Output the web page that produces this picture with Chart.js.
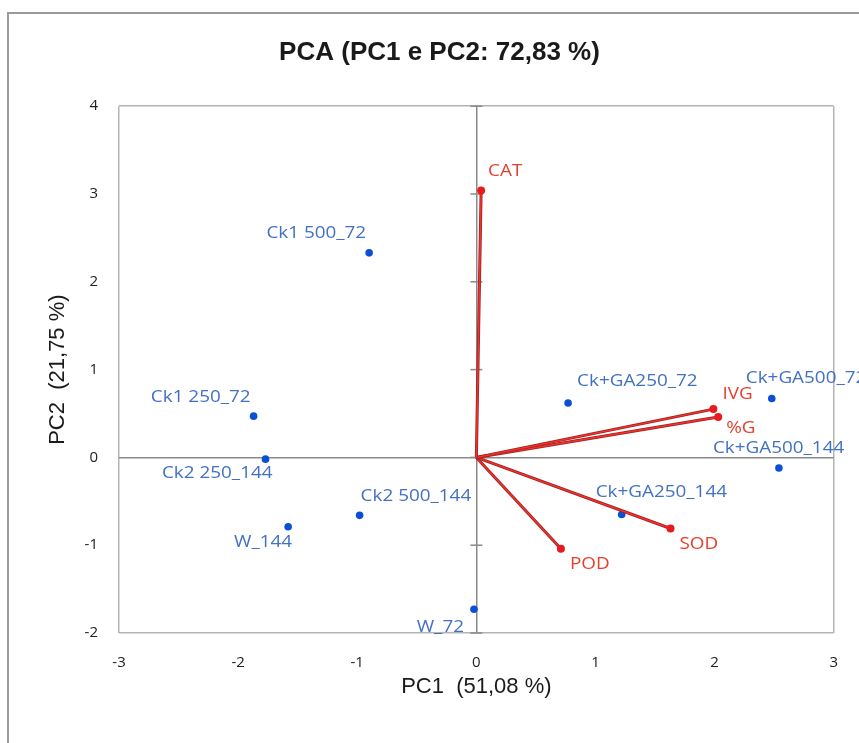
<!DOCTYPE html>
<html>
<head>
<meta charset="utf-8">
<script src="https://cdn.jsdelivr.net/npm/chart.js@4.4.1/dist/chart.umd.min.js"></script>
<style>
  html, body { margin: 0; padding: 0; background: #fff; overflow: hidden; }
  #frame {
    position: absolute; left: 7px; top: 12px; width: 900px; height: 800px;
    border-left: 2px solid #9a9a9a; border-top: 2px solid #9a9a9a;
  }
  #pca { position: absolute; left: 0; top: 0; }
</style>
</head>
<body>
<div id="frame"></div>
<canvas id="pca" width="859" height="743"></canvas>
<script>
// observation scores (treatments)
var obsLabels = ['Ck1 500_72', 'Ck1 250_72', 'Ck2 250_144', 'W_144', 'Ck2 500_144',
                 'W_72', 'Ck+GA250_72', 'Ck+GA500_72', 'Ck+GA500_144', 'Ck+GA250_144'];
var obsPC1 = [-0.90, -1.87, -1.77, -1.58, -0.98, -0.02, 0.77, 2.48, 2.54, 1.22];
var obsPC2 = [2.33, 0.47, -0.02, -0.79, -0.66, -1.73, 0.62, 0.67, -0.12, -0.65];

// variable loadings (vectors from the origin)
var varLabels = ['CAT', 'IVG', '%G', 'SOD', 'POD'];
var varPC1 = [0.04, 1.99, 2.03, 1.63, 0.71];
var varPC2 = [3.04, 0.55, 0.46, -0.81, -1.04];

var xTicks = [-3, -2, -1, 0, 1, 2, 3];
var yTicks = [-2, -1, 0, 1, 2, 3, 4];

// label placement relative to the point: [dx, dy, textAlign]
var obsLabelPlace = [
    [-3, -19, 'right'], [-3, -19, 'right'], [7, 14, 'right'], [4, 16, 'right'], [1, -19, 'left'],
    [-10, 18, 'right'], [9, -22, 'left'], [-26, -20, 'left'], [-66, -19, 'left'], [-26, -22, 'left']
];
var varLabelPlace = [[7, -19, 'left'], [9, -15, 'left'], [8, 11, 'left'], [9, 16, 'left'], [9, 16, 'left']];

var BLUE_PT = '#0b4fd4';
var BLUE_TXT = '#4270c2';
var RED_PT = '#e81a1e';
var RED_TXT = '#e4402e';
var AXIS = '#8a8a8a';
var EDGE = '#b4b4b4';

// Chart.js paints the first dataset on top, so the red stroke goes in before its dark edge
var datasets = [];
varLabels.forEach(function(name, i) {
    var seg = [{x: 0, y: 0}, {x: varPC1[i], y: varPC2[i]}];
    datasets.push({
        label: name, data: seg, showLine: true,
        borderColor: '#f3312b', borderWidth: 1.5,
        pointRadius: [0, 4], pointBackgroundColor: RED_PT, pointBorderWidth: 0
    });
    datasets.push({
        label: name + '_edge', data: seg, showLine: true,
        borderColor: '#9a2222', borderWidth: 3, pointRadius: 0
    });
});
datasets.push({
    label: 'obs',
    data: obsPC1.map(function(v, i) { return {x: v, y: obsPC2[i]}; }),
    pointRadius: 3.8, pointBackgroundColor: BLUE_PT, pointBorderWidth: 0
});

function drawLabel(ctx, text, px, py, place, color) {
    ctx.save();
    ctx.translate(px + place[0], py + place[1]);
    ctx.scale(1.18, 1);
    ctx.font = '16px "Open Sans"';
    ctx.textAlign = place[2];
    ctx.textBaseline = 'middle';
    ctx.fillStyle = color;
    ctx.fillText(text, 0, 0);
    ctx.restore();
}

var biplotDecor = {
    id: 'biplotDecor',
    beforeDatasetsDraw: function(chart) {
        var ctx = chart.ctx, x = chart.scales.x, y = chart.scales.y;
        var x0 = x.getPixelForValue(0);
        ctx.save();
        ctx.strokeStyle = AXIS;
        ctx.lineWidth = 1.5;
        yTicks.forEach(function(v) {
            var py = y.getPixelForValue(v);
            ctx.beginPath();
            ctx.moveTo(x0 - 6, py);
            ctx.lineTo(x0 + 6, py);
            ctx.stroke();
        });
        ctx.restore();
    },
    afterDatasetsDraw: function(chart) {
        var ctx = chart.ctx, x = chart.scales.x, y = chart.scales.y;
        obsLabels.forEach(function(t, i) {
            drawLabel(ctx, t, x.getPixelForValue(obsPC1[i]), y.getPixelForValue(obsPC2[i]), obsLabelPlace[i], BLUE_TXT);
        });
        varLabels.forEach(function(t, i) {
            drawLabel(ctx, t, x.getPixelForValue(varPC1[i]), y.getPixelForValue(varPC2[i]), varLabelPlace[i], RED_TXT);
        });
    }
};

function gridColor(lo, hi) {
    return function(c) {
        var v = c.tick.value;
        if (v === 0) return AXIS;
        if (v === lo || v === hi) return EDGE;
        return 'rgba(0,0,0,0)';
    };
}

var ctx = document.getElementById('pca').getContext('2d');
var pcaChart = new Chart(ctx, {
    type: 'scatter',
    data: { datasets: datasets },
    plugins: [biplotDecor],
    options: {
        responsive: false,
        animation: false,
        layout: { padding: { left: 45, right: 25, top: 0, bottom: 0 } },
        plugins: {
            legend: { display: false },
            tooltip: { enabled: false },
            title: {
                display: true,
                text: 'PCA (PC1 e PC2: 72,83 %)',
                color: '#1a1a1a',
                font: { family: '"Liberation Sans", Arial, sans-serif', size: 26, weight: 'bold' },
                padding: { top: 37, bottom: 38 }
            }
        },
        scales: {
            x: {
                type: 'linear', min: -3, max: 3,
                afterBuildTicks: function(s) { s.ticks = xTicks.map(function(v) { return {value: v}; }); },
                afterFit: function(s) { s.height = 110; },
                ticks: { color: '#222', font: { family: '"Open Sans"', size: 15 }, padding: 21 },
                grid: { drawTicks: false, color: gridColor(-3, 3), lineWidth: 1.5 },
                border: { display: false },
                title: {
                    display: true, text: 'PC1  (51,08 %)', color: '#1a1a1a',
                    font: { family: '"Liberation Sans", Arial, sans-serif', size: 22 },
                    padding: { top: 0, bottom: 43 }
                }
            },
            y: {
                type: 'linear', min: -2, max: 4,
                afterBuildTicks: function(s) { s.ticks = yTicks.map(function(v) { return {value: v}; }); },
                afterFit: function(s) { s.width = 74; },
                ticks: { color: '#222', font: { family: '"Open Sans"', size: 15 }, padding: 21 },
                grid: { drawTicks: false, color: gridColor(-2, 4), lineWidth: 1.5 },
                border: { display: false },
                title: {
                    display: true, text: 'PC2  (21,75 %)', color: '#1a1a1a',
                    font: { family: '"Liberation Sans", Arial, sans-serif', size: 22 },
                    padding: { top: 0, bottom: 0 }
                }
            }
        }
    }
});
</script>
</body>
</html>
